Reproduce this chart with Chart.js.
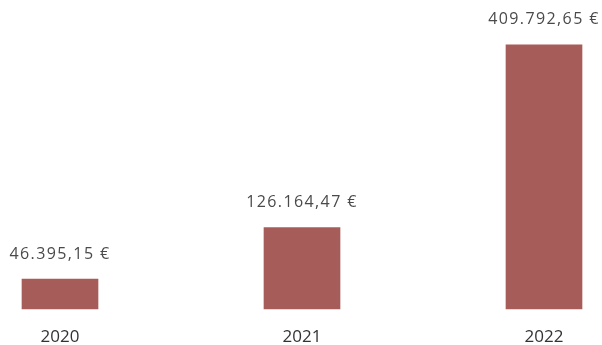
<!DOCTYPE html>
<html>
<head>
<meta charset="utf-8">
<script src="https://cdn.jsdelivr.net/npm/chart.js@4.4.1/dist/chart.umd.min.js"></script>
<style>
  html, body { margin: 0; padding: 0; background: #ffffff; }
  #wrap { width: 602px; height: 345px; position: relative; }
</style>
</head>
<body>
<div id="wrap"><canvas id="c" width="602" height="345"></canvas></div>
<script>
// Yearly totals in euro
const years = ['2020', '2021', '2022'];
const totals = [46395.15, 126164.47, 409792.65];

// German-style currency text: 126.164,47 €
function euro(v) {
  const [intPart, dec] = v.toFixed(2).split('.');
  const grouped = intPart.replace(/\B(?=(\d{3})+(?!\d))/g, '.');
  return grouped + ',' + dec + ' €';
}

// Value labels above each bar
const valueLabels = {
  id: 'valueLabels',
  afterDatasetsDraw(chart) {
    const ctx = chart.ctx;
    const meta = chart.getDatasetMeta(0);
    ctx.save();
    ctx.font = '16px "Open Sans", sans-serif';
    if ('letterSpacing' in ctx) ctx.letterSpacing = '1.4px';
    ctx.fillStyle = '#4a4a4a';
    ctx.textAlign = 'center';
    ctx.textBaseline = 'middle';
    meta.data.forEach((bar, i) => {
      ctx.fillText(euro(totals[i]), bar.x, bar.y - 25);
    });
    ctx.restore();
  }
};

new Chart(document.getElementById('c'), {
  type: 'bar',
  data: {
    labels: years,
    datasets: [{
      data: totals,
      backgroundColor: '#a65c58',
      borderWidth: 0,
      barThickness: 76,
      clip: false
    }]
  },
  options: {
    responsive: false,
    animation: false,
    devicePixelRatio: 1,
    layout: { padding: { left: 60, right: 58, top: 19, bottom: 0 } },
    plugins: {
      legend: { display: false },
      tooltip: { enabled: false }
    },
    scales: {
      x: {
        offset: false,
        grid: { display: false, drawTicks: false },
        border: { display: false },
        ticks: {
          color: '#333333',
          font: { family: '"Open Sans", sans-serif', size: 17 },
          padding: 18,
          maxRotation: 0,
          autoSkip: false
        },
        afterFit(scale) { scale.height = 36; }
      },
      y: {
        display: false,
        min: 0,
        max: 450000
      }
    }
  },
  plugins: [valueLabels]
});
</script>
</body>
</html>
